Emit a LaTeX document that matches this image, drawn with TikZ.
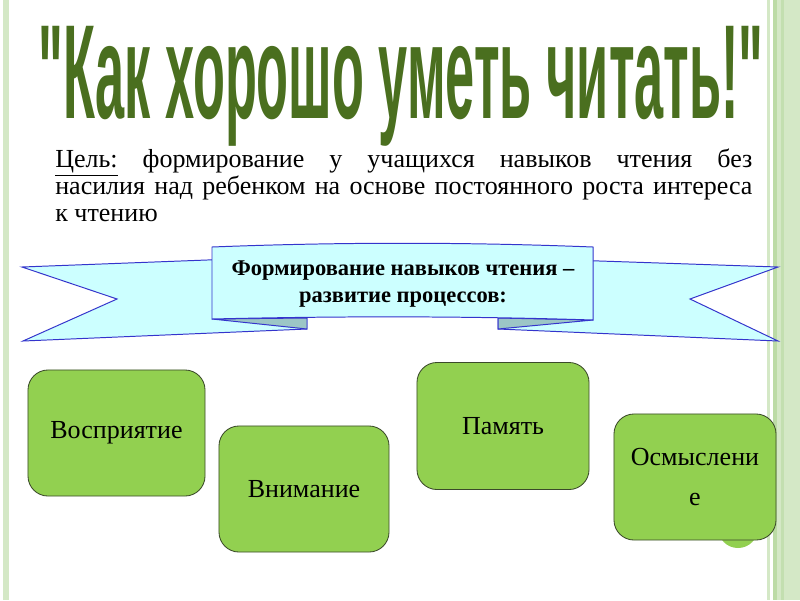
\documentclass[tikz,border=0pt]{standalone}
\usepackage{fontspec}
\usepackage{graphicx}
\setmainfont{Liberation Serif}
\newfontfamily\titlefont{Liberation Sans}
\usetikzlibrary{positioning}

\definecolor{titlegreen}{HTML}{4A6F1F}
\definecolor{boxgreen}{HTML}{92D050}
\definecolor{boxline}{HTML}{3B4A2A}
\definecolor{ribbonfill}{HTML}{CCFFFF}
\definecolor{ribbonline}{HTML}{3434CC}
\definecolor{foldfill}{HTML}{9CC6C6}
\definecolor{stripelight}{HTML}{D4E8C6}
\definecolor{stripemid}{HTML}{BCDBA6}

\begin{document}
\begin{tikzpicture}[
  x=0.025cm, y=-0.025cm,
  box/.style={draw=boxline, fill=boxgreen, rounded corners=0.5cm, line width=0.6pt,
    minimum height=3.15cm, align=center, font=\rmfamily\fontsize{18.5}{28}\selectfont},
  ribbon/.style={draw=ribbonline, fill=ribbonfill, line width=0.7pt},
  fold/.style={draw=ribbonline, fill=foldfill, line width=0.7pt}
]
\useasboundingbox[fill=white] (0,0) rectangle (800,600);

% Border stripes
\fill[stripelight] (3,0) rectangle (9,600);
\fill[stripelight] (767,0) rectangle (770,600);
\fill[stripemid] (773,0) rectangle (777,600);
\fill[stripelight] (777,0) rectangle (800,600);
\fill[stripemid!70!stripelight] (781,0) rectangle (784,600);

% Title
\node[anchor=north west, inner sep=0, text=titlegreen] (title) at (38,26)
  {\resizebox*{18.125cm}{3.0cm}{\titlefont\bfseries "Как хорошо уметь читать!"}};

% Goal text
\node[anchor=north west, inner sep=0, text width=17.425cm, align=justify,
  font=\fontsize{18.5}{19.2}\selectfont] (goal) at (55,149)
  {\underline{Цель:} формирование у учащихся навыков чтения без\linebreak
   насилия над ребенком на основе постоянного роста интереса\linebreak
   к чтению};

% Ribbon
\filldraw[ribbon] (260,258) -- (22,267) -- (117,299) -- (23,341) -- (307,329) -- (307,290) -- (260,290) -- cycle;
\filldraw[ribbon] (540,259) -- (778,267) -- (690,299) -- (778,341) -- (498,329) -- (498,290) -- (540,290) -- cycle;
\filldraw[fold] (212,319) -- (307,318) -- (307,329) -- cycle;
\filldraw[fold] (593,320) -- (498,318) -- (498,329) -- cycle;
\filldraw[ribbon] (212,247) .. controls (340,242) and (465,242) .. (593,247)
  -- (593,320) .. controls (465,316) and (340,316) .. (212,319) -- cycle;
\node[align=center, font=\bfseries\fontsize{16}{19.2}\selectfont] (banner) at (403,284)
  {Формирование навыков чтения –\\развитие процессов:};

% Processes
\fill[boxgreen] (738,528) circle (20);
\node[box, minimum width=4.425cm] (n1) at (116.5,433) {Восприятие};
\node[box, minimum width=4.25cm] (n2) at (304,489) {Внимание};
\node[box, minimum width=4.3cm, minimum height=3.175cm] (n3) at (503,426) {Память};
\node[box, minimum width=4.05cm] (n4) at (695,477) {Осмыслени\\е};

\end{tikzpicture}
\end{document}
